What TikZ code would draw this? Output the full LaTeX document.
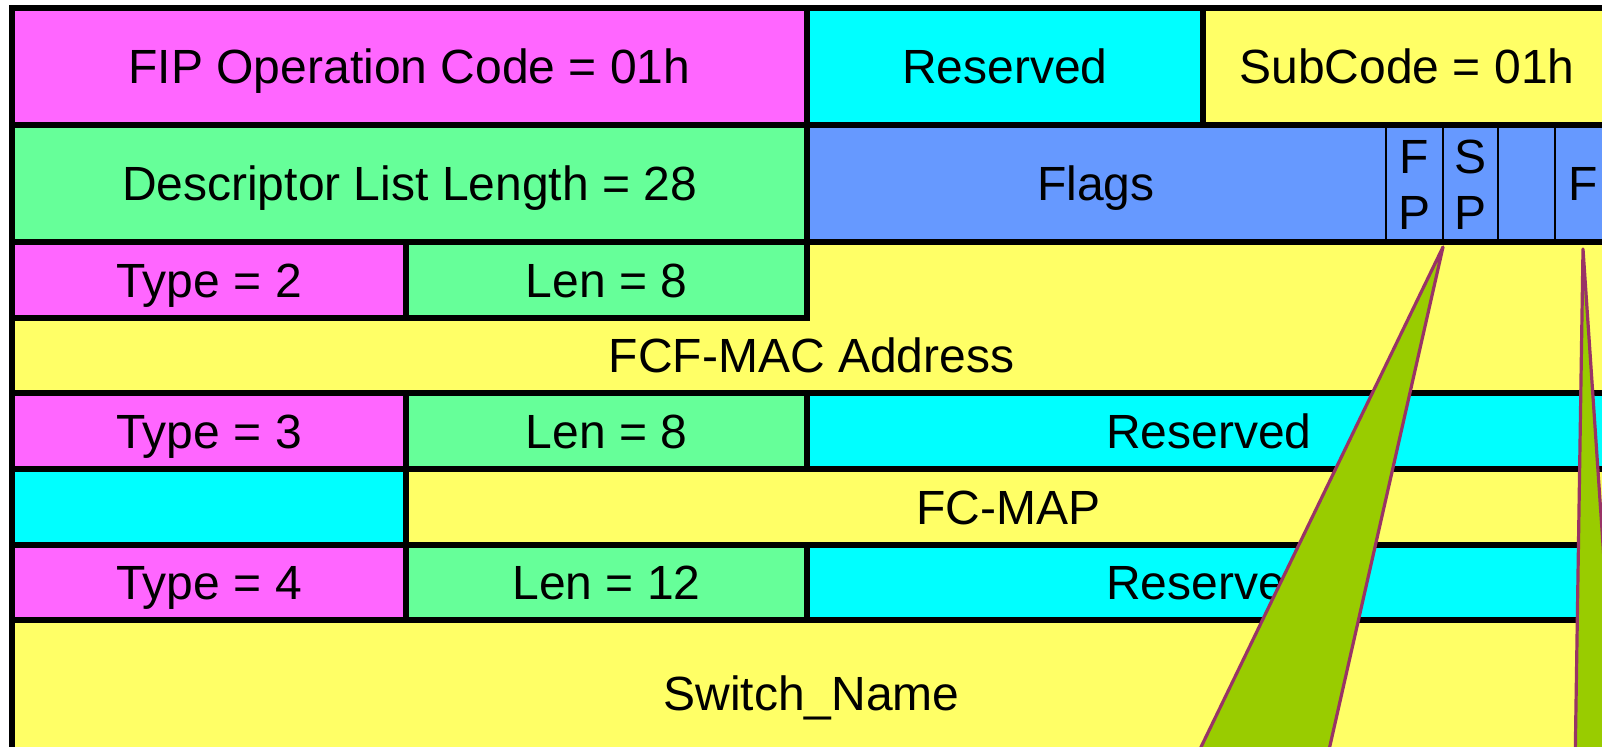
\documentclass[tikz,border=0pt]{standalone}
\usepackage{fontspec}
\setmainfont{Liberation Sans}
\definecolor{fldmagenta}{HTML}{FF66FF}
\definecolor{fldcyan}{HTML}{00FFFF}
\definecolor{fldyellow}{HTML}{FFFF66}
\definecolor{fldgreen}{HTML}{66FF99}
\definecolor{fldblue}{HTML}{6699FF}
\definecolor{ptrfill}{HTML}{99CC00}
\definecolor{ptredge}{HTML}{993366}
\begin{document}
\begin{tikzpicture}[x=0.5pt,y=-0.5pt,
  rule/.style={line width=2.85pt, line cap=rect},
  bitrule/.style={line width=1.15pt},
  lbl/.style={inner sep=0pt, text height=17.2pt, text depth=0pt,
    font=\fontsize{24}{28}\selectfont},
  stack/.style={inner sep=0pt, align=center, font=\fontsize{24}{28}\selectfont},
  pointer/.style={fill=ptrfill, draw=ptredge, line width=1.6pt, line join=round}]
\useasboundingbox (0,0) rectangle (1602,747);
\clip (0,0) rectangle (1602,747);
\fill[white] (0,0) rectangle (1602,747);

% column and row positions of the word grid
\def\ca{12}\def\cb{406}\def\cc{807}\def\cd{1203}\def\ce{1611}
\def\ra{8}\def\rb{125}\def\rc{242}\def\rd{318}\def\re{393}
\def\rf{469}\def\rg{545}\def\rh{620}\def\ri{750}

% field backgrounds
\fill[fldmagenta] (\ca,\ra) rectangle (\cc,\rb);
\fill[fldcyan]    (\cc,\ra) rectangle (\cd,\rb);
\fill[fldyellow]  (\cd,\ra) rectangle (\ce,\rb);
\fill[fldgreen]   (\ca,\rb) rectangle (\cc,\rc);
\fill[fldblue]    (\cc,\rb) rectangle (\ce,\rc);
\fill[fldmagenta] (\ca,\rc) rectangle (\cb,\rd);
\fill[fldgreen]   (\cb,\rc) rectangle (\cc,\rd);
\fill[fldyellow]  (\cc,\rc) -- (\ce,\rc) -- (\ce,\re) -- (\ca,\re) -- (\ca,\rd) -- (\cc,\rd) -- cycle;
\fill[fldmagenta] (\ca,\re) rectangle (\cb,\rf);
\fill[fldgreen]   (\cb,\re) rectangle (\cc,\rf);
\fill[fldcyan]    (\cc,\re) rectangle (\ce,\rf);
\fill[fldcyan]    (\ca,\rf) rectangle (\cb,\rg);
\fill[fldyellow]  (\cb,\rf) rectangle (\ce,\rg);
\fill[fldmagenta] (\ca,\rg) rectangle (\cb,\rh);
\fill[fldgreen]   (\cb,\rg) rectangle (\cc,\rh);
\fill[fldcyan]    (\cc,\rg) rectangle (\ce,\rh);
\fill[fldyellow]  (\ca,\rh) rectangle (\ce,\ri);

% flag bit dividers
\foreach \fx in {1386,1443,1498,1555}
  \draw[bitrule] (\fx,\rb) -- (\fx,\rc);

% grid rules
\draw[rule] (\ca,\ra) rectangle (\ce,\ri);
\foreach \ry in {\rb,\rc,\re,\rf,\rg,\rh}
  \draw[rule] (\ca,\ry) -- (\ce,\ry);
\draw[rule] (\ca,\rd) -- (\cc,\rd);
\draw[rule] (\cc,\ra) -- (\cc,\rd);
\draw[rule] (\cd,\ra) -- (\cd,\rb);
\draw[rule] (\cb,\rc) -- (\cb,\rd);
\draw[rule] (\cb,\re) -- (\cb,\rh);
\draw[rule] (\cc,\re) -- (\cc,\rf);
\draw[rule] (\cc,\rg) -- (\cc,\rh);

% field labels
\node[lbl] (opcode)  at (409.5,66.5)  {FIP Operation Code = 01h};
\node[lbl] (resA)    at (1005,66.5)   {Reserved};
\node[lbl] (subcode) at (1407,66.5)   {SubCode = 01h};
\node[lbl] (dll)     at (409.5,183.5) {Descriptor List Length = 28};
\node[lbl] (flags)   at (1096,183.5)  {Flags};
\node[stack] (fpbit) at (1414.5,185)  {F\\P};
\node[stack] (spbit) at (1470.5,185)  {S\\P};
\node[lbl] (fbit)    at (1583,183.5)  {F};
\node[lbl] (typeA)   at (209,280)     {Type = 2};
\node[lbl] (lenA)    at (606.5,280)   {Len = 8};
\node[lbl] (mac)     at (811.5,355.5) {FCF-MAC Address};
\node[lbl] (typeB)   at (209,431)     {Type = 3};
\node[lbl] (lenB)    at (606.5,431)   {Len = 8};
\node[lbl] (resB)    at (1209,431)    {Reserved};
\node[lbl] (fcmap)   at (1008.5,507)  {FC-MAP};
\node[lbl] (typeC)   at (209,582.5)   {Type = 4};
\node[lbl] (lenC)    at (606.5,582.5) {Len = 12};
\node[lbl] (resC)    at (1209,582.5)  {Reserved};
\node[lbl] (swname)  at (811.5,693)   {Switch\_Name};

% call-out wedges from the flag bits
\coordinate (tipA) at (1443,247);
\coordinate (tipB) at (1583,249);
\draw[pointer] (tipA) -- (1127,900) -- (1295,900) -- cycle;
\draw[pointer] (tipB) -- (1573,900) -- (1627,900) -- cycle;
\end{tikzpicture}
\end{document}
